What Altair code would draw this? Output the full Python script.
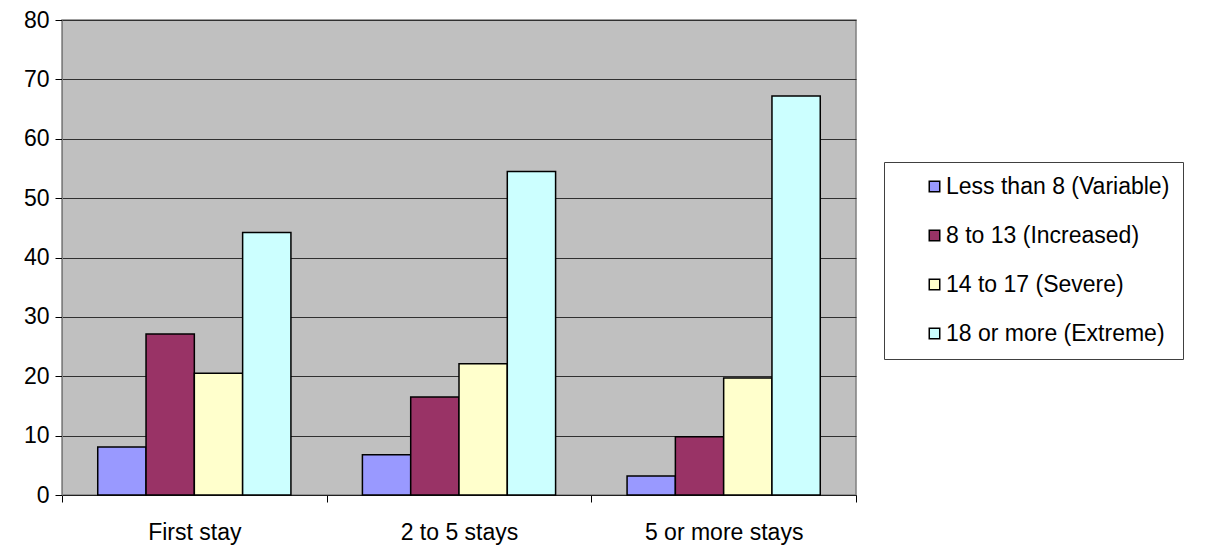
import altair as alt
import pandas as pd

categories = ["First stay", "2 to 5 stays", "5 or more stays"]
series = ["Less than 8 (Variable)", "8 to 13 (Increased)", "14 to 17 (Severe)", "18 or more (Extreme)"]
less_than_8 = [8.1, 6.8, 3.2]
from_8_to_13 = [27.1, 16.5, 9.8]
from_14_to_17 = [20.5, 22.1, 19.7]
over_18 = [44.2, 54.5, 67.2]
colors = ["#9999FF", "#993366", "#FFFFCC", "#CCFFFF"]
y_ticks = [0, 10, 20, 30, 40, 50, 60, 70, 80]

rows = []
for s, vals in zip(series, [less_than_8, from_8_to_13, from_14_to_17, over_18]):
    for c, v in zip(categories, vals):
        rows.append({"stay": c, "score": s, "value": v})
df = pd.DataFrame(rows)

FONT = "Liberation Sans"

chart = alt.Chart(df).mark_bar(stroke="black", strokeWidth=1.5).encode(
    x=alt.X(
        "stay:N",
        sort=categories,
        scale=alt.Scale(paddingInner=0, paddingOuter=0),
        axis=alt.Axis(
            title=None, labelAngle=0, tickBand="extent", tickSize=7,
            tickColor="black", domainColor="#202020", labelPadding=19,
            labelFontSize=23, labelColor="black", labelFont=FONT,
        ),
    ),
    xOffset=alt.XOffset("score:N", sort=series,
                        scale=alt.Scale(paddingInner=0, paddingOuter=0.74)),
    y=alt.Y(
        "value:Q",
        scale=alt.Scale(domain=[0, 80], nice=False),
        axis=alt.Axis(
            title=None, values=y_ticks, tickSize=7, tickColor="black",
            domainColor="#808080", gridColor="#303030", gridWidth=1,
            labelPadding=6, labelFontSize=23, labelColor="black", labelFont=FONT,
        ),
    ),
    color=alt.Color(
        "score:N",
        sort=series,
        scale=alt.Scale(domain=series, range=colors),
        legend=alt.Legend(
            title=None, orient="none", legendX=822, legendY=142,
            symbolType="square", symbolSize=110, symbolStrokeColor="black",
            symbolStrokeWidth=1.5, symbolOffset=26, labelOffset=0,
            labelFontSize=23, labelFont=FONT, labelColor="black",
            rowPadding=25, padding=13, strokeColor="#404040",
            fillColor="white", labelLimit=400,
        ),
    ),
).properties(
    width=794, height=475,
    padding={"left": 54, "top": 12, "right": 352, "bottom": 50},
    autosize=alt.AutoSizeParams(type="none"),
    background="white",
).configure_view(fill="#C0C0C0", stroke="#808080", strokeWidth=1.5)

chart.save("out.html", embed_options={"renderer": "svg", "actions": False})
